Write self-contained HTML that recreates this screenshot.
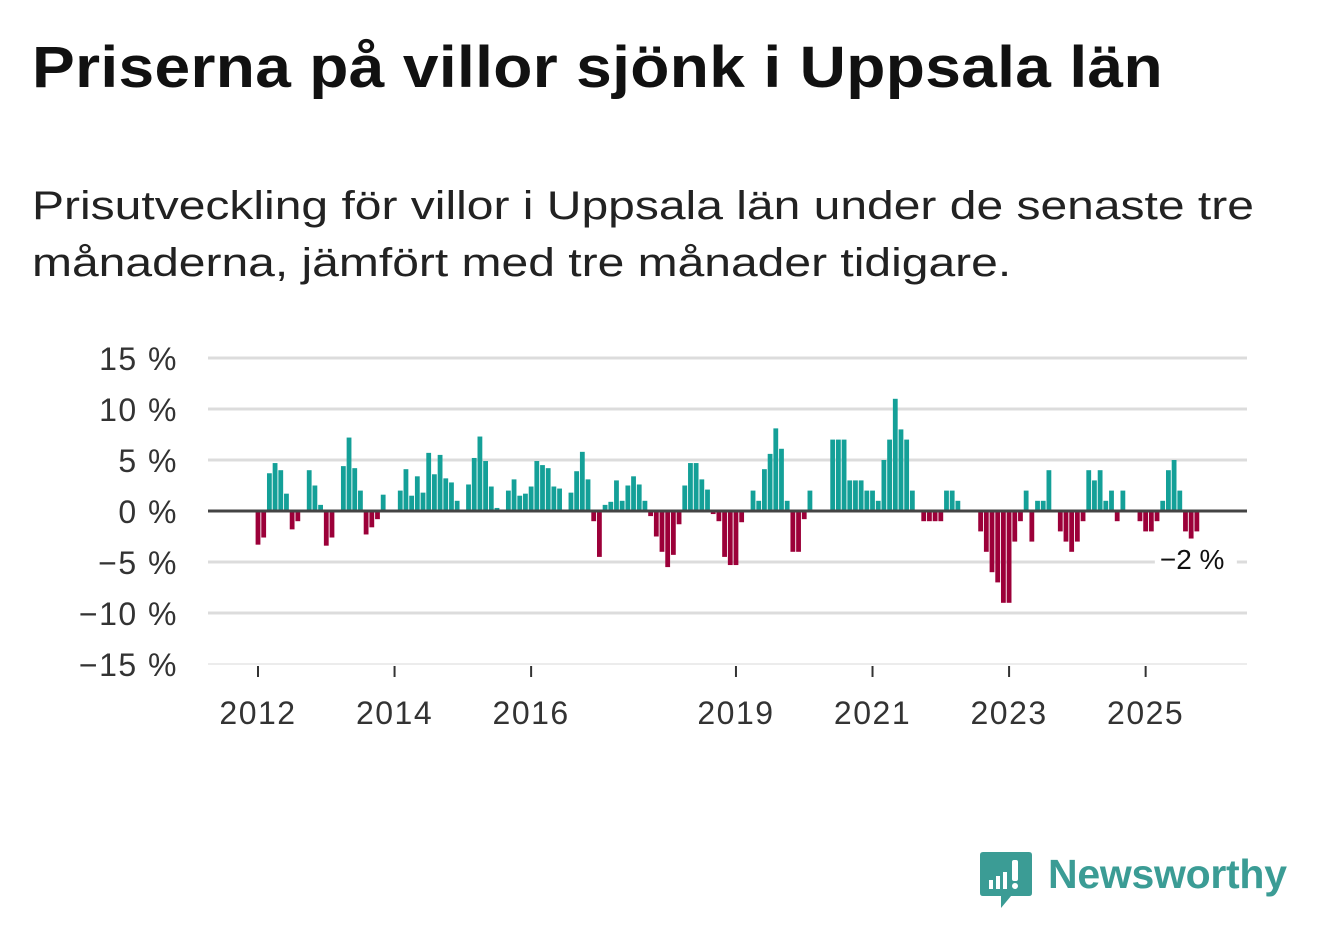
<!DOCTYPE html>
<html><head><meta charset="utf-8"><style>
body{margin:0;background:#fff;width:1322px;height:939px;overflow:hidden;font-family:"Liberation Sans",sans-serif;color:#111}
h1{position:absolute;left:32px;top:34px;margin:0;font-size:58px;font-weight:bold;letter-spacing:0.3px;transform:scaleX(1.105);transform-origin:0 0;white-space:nowrap}
.sub{position:absolute;left:32px;top:178px;margin:0;font-size:40px;line-height:57px;color:#222;transform:scaleX(1.2);transform-origin:0 0;white-space:nowrap}
svg{position:absolute;left:0;top:0}
</style></head><body>
<h1>Priserna på villor sjönk i Uppsala län</h1>
<p class="sub">Prisutveckling för villor i Uppsala län under de senaste tre<br>månaderna, jämfört med tre månader tidigare.</p>
<svg id="chart" width="1322" height="939"></svg>
<script>
const values = [-3.3,-2.6,3.7,4.7,4.0,1.7,-1.8,-1.0,0,4.0,2.5,0.6,-3.4,-2.6,0,4.4,7.2,4.2,2.0,-2.3,-1.6,-0.8,1.6,0,0,2.0,4.1,1.5,3.4,1.8,5.7,3.6,5.5,3.2,2.8,1.0,0,2.6,5.2,7.3,4.9,2.4,0.3,0,2.0,3.1,1.5,1.7,2.4,4.9,4.5,4.2,2.4,2.2,0,1.8,3.9,5.8,3.1,-1.0,-4.5,0.6,0.9,3.0,1.0,2.5,3.4,2.6,1.0,-0.5,-2.5,-4.0,-5.5,-4.3,-1.3,2.5,4.7,4.7,3.1,2.1,-0.3,-1.0,-4.5,-5.3,-5.3,-1.1,0,2.0,1.0,4.1,5.6,8.1,6.1,1.0,-4.0,-4.0,-0.8,2.0,0,0,0,7.0,7.0,7.0,3.0,3.0,3.0,2.0,2.0,1.0,5.0,7.0,11.0,8.0,7.0,2.0,0,-1,-1,-1,-1,2,2,1,0,0,0,-2,-4,-6,-7,-9,-9,-3,-1,2,-3,1,1,4,0,-2,-3,-4,-3,-1,4,3,4,1,2,-1,2,0,0,-1,-2,-2,-1,1,4,5,2,-2,-2.7,-2];
const yTicks = [15,10,5,0,-5,-10,-15];
const yTickLabels = ["15 %","10 %","5 %","0 %","\u22125 %","\u221210 %","\u221215 %"];
const xTickYears = [2012,2014,2016,2019,2021,2023,2025];
const startYear = 2012;
const lastLabel = "\u22122 %";

const NS="http://www.w3.org/2000/svg";
const svg=document.getElementById('chart');
const X0=258, PX_PER_MONTH=5.69, L=208, R=1247;
const yScale=v=>511 - v*10.2;
const xScale=m=>X0 + m*PX_PER_MONTH;
function mk(tag,attrs){const e=document.createElementNS(NS,tag);for(const k in attrs)e.setAttribute(k,attrs[k]);svg.appendChild(e);return e;}

yTicks.forEach((t,i)=>{
  if(t!==0){
    const g=mk('line',{x1:L,x2:R,y1:yScale(t),y2:yScale(t),stroke:t===-15?'#e6e6e6':'#dcdcdc','stroke-width':t===-15?1.5:3});
    
    
  }
  const tx=mk('text',{x:178,y:yScale(t)+12,'text-anchor':'end','font-size':32,'letter-spacing':1.5,fill:'#333','font-family':'Liberation Sans, sans-serif'});
  tx.textContent=yTickLabels[i];
  
  
});

values.forEach((v,i)=>{
  const x=xScale(i)-2.4, y0=yScale(0);
  const h=Math.abs(yScale(v)-y0);
  const r=mk('rect',{x:x,width:4.8,y:v>=0?y0-h:y0,height:h,fill:v>=0?'#14a098':'#9c0039'});
  
  
});

const zl=mk('line',{x1:L,x2:R,y1:yScale(0),y2:yScale(0),stroke:'#444','stroke-width':3});



xTickYears.forEach(yr=>{
  const x=xScale((yr-startYear)*12);
  const t=mk('line',{x1:x,x2:x,y1:666,y2:677,stroke:'#333','stroke-width':2});
  
  
  const tx=mk('text',{x:x,y:724,'text-anchor':'middle','font-size':32,'letter-spacing':1.5,fill:'#333','font-family':'Liberation Sans, sans-serif'});
  tx.textContent=yr;
  
  
});

const lx=xScale(values.length-1);
const bg=mk('rect',{x:lx-42,y:544,width:82,height:30,fill:'#fff'});


const lt=mk('text',{x:lx-37,y:569,'font-size':28,fill:'#111','font-family':'Liberation Sans, sans-serif'});
lt.textContent=lastLabel;


</script>
<svg width="1322" height="939" style="pointer-events:none">
  <path d="M983 852 h46 q3 0 3 3 v38 q0 3 -3 3 h-18 l-10 12 v-12 h-18 q-3 0 -3 -3 v-38 q0 -3 3 -3z" fill="#3b9c95"/>
  <rect x="989" y="880" width="4" height="9" fill="#fff"/>
  <rect x="996" y="876" width="4" height="13" fill="#fff"/>
  <rect x="1003" y="872" width="4" height="17" fill="#fff"/>
  <rect x="1012" y="860" width="6" height="21" rx="2" fill="#fff"/>
  <circle cx="1015" cy="886" r="3" fill="#fff"/>
  <text x="1048" y="888" font-size="41" font-weight="bold" fill="#3b9c95" font-family="Liberation Sans, sans-serif" textLength="239">Newsworthy</text>
</svg>
</body></html>
